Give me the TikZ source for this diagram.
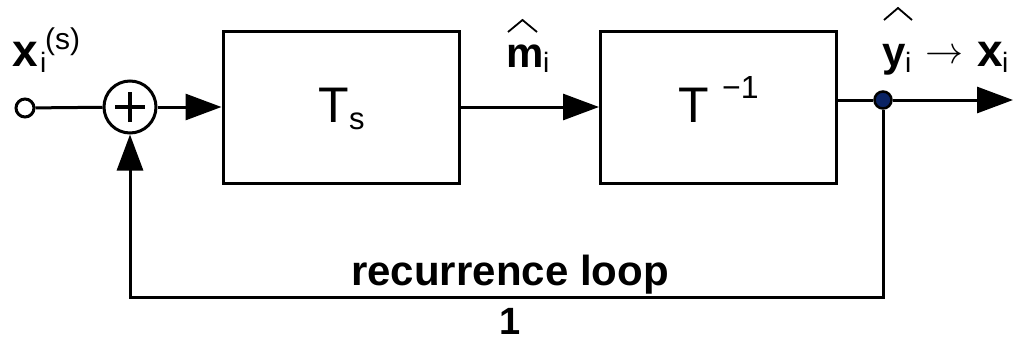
\documentclass[tikz,border=0pt]{standalone}
\usepackage{fontspec}
\usepackage{graphicx}
\setmainfont{Liberation Sans}
\usetikzlibrary{arrows.meta}
\definecolor{dotblue}{RGB}{10,35,100}
\tikzset{
  wire/.style={line width=3pt},
  bigarrow/.style={-{Triangle[length=36pt,width=26pt]}},
  blockbox/.style={draw,line width=3pt,minimum width=236pt,minimum height=152pt,inner sep=0pt},
  lbl/.style={inner sep=0pt,anchor=base west},
  hat/.style={line width=1.8pt},
}
\begin{document}
\begin{tikzpicture}[x=1pt,y=-1pt]
\useasboundingbox (0,0) rectangle (1013,340);
% blocks
\node[blockbox] (b1) at (341,107) {};
\node[blockbox] (b2) at (718.5,107) {};
\node[lbl,font=\fontsize{50}{50}\selectfont] (T1) at (318,122) {T};
\node[lbl,font=\fontsize{31}{31}\selectfont] (T1s) at (349,129) {s};
\node[lbl,font=\fontsize{50}{50}\selectfont] (T2) at (678,122) {T};
\node[lbl,font=\fontsize{32}{32}\selectfont] (T2s) at (722,98) {−1};
% input and sum
\node[circle,draw,line width=3pt,fill=white,minimum size=18pt,inner sep=0pt] (in) at (25,108) {};
\node[circle,draw,line width=3pt,minimum size=52pt,inner sep=0pt] (sum) at (130,107) {};
\draw[line width=4.5pt] ([xshift=-15pt]sum.center) -- ([xshift=15pt]sum.center);
\draw[line width=4.5pt] ([yshift=-15pt]sum.center) -- ([yshift=15pt]sum.center);
% branch dot
\node[circle,draw,line width=2.5pt,fill=dotblue,minimum size=17pt,inner sep=0pt] (dot) at (883,100) {};
\coordinate (out) at (1013,100);
\coordinate (c1) at (883,297);
\coordinate (c2) at (130,297);
% connectors
\draw[wire] (in) -- (sum);
\draw[wire,bigarrow] (sum) -- (b1.west |- sum);
\draw[wire,bigarrow] (b1.east |- sum) -- (b2.west |- sum);
\draw[wire] (b2.east |- dot) -- (dot);
\draw[wire,bigarrow] (dot) -- (out);
\draw[wire,bigarrow] (dot) -- (c1) -- (c2) -- (sum);
% labels
\node[lbl,font=\fontsize{46}{46}\selectfont\bfseries] (xs) at (12,66) {x};
\node[lbl,font=\fontsize{28}{28}\selectfont] (xsi) at (40,72) {i};
\node[lbl,font=\fontsize{30}{30}\selectfont] (xss) at (45,49) {(s)};
\node[lbl,font=\fontsize{42}{42}\selectfont\bfseries] (m) at (506,67) {m};
\node[lbl,font=\fontsize{28}{28}\selectfont] (mi) at (543,72) {i};
\draw[hat] (508,32) -- (522.5,20) -- (537,32);
\node[lbl,font=\fontsize{42}{42}\selectfont\bfseries] (y) at (882,66) {y};
\node[lbl,font=\fontsize{28}{28}\selectfont] (yi) at (905,72) {i};
\draw[hat] (884,20) -- (898,8) -- (912,20);
\node[inner sep=0pt] (arr) at (944,57) {\resizebox{38pt}{!}{$\rightarrow$}};
\node[lbl,font=\fontsize{46}{46}\selectfont\bfseries] (x2) at (977,66) {x};
\node[lbl,font=\fontsize{28}{28}\selectfont] (x2i) at (1002,72) {i};
\node[anchor=base,inner sep=0pt,font=\fontsize{42}{42}\selectfont\bfseries] (rl) at (510,285) {recurrence loop};
\node[anchor=base,inner sep=0pt,font=\fontsize{38}{38}\selectfont\bfseries] (one) at (510,334) {1};
\end{tikzpicture}
\end{document}
